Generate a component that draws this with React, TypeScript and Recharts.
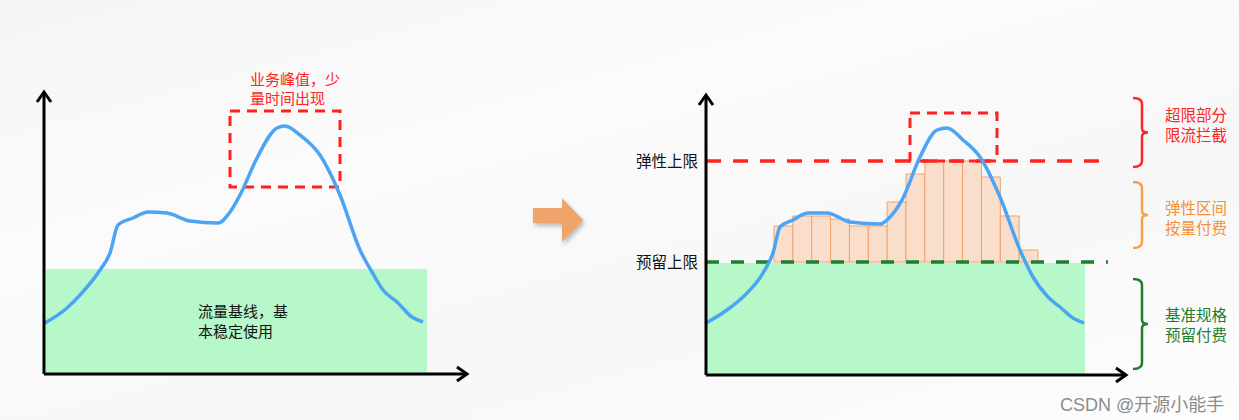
import { ComposedChart, Line, XAxis, YAxis, ReferenceArea, ReferenceLine, ReferenceDot } from "recharts"

// left panel: traffic curve (x = time, y = traffic)
const leftX = [1, 23, 36, 56, 66, 74, 89, 104, 123, 146, 174, 186, 196, 213, 233, 241, 256, 276, 296, 316, 328, 339, 353, 368, 379]
const leftY = [51, 66, 79, 104, 121, 149, 156, 162, 161, 153, 151, 162, 179, 216, 246, 248, 239, 219, 179, 124, 102, 84, 72, 57, 52]
const leftBaseline = 105
const leftBaseEnd = 383
const leftPeakBox = { x1: 186, x2: 296, y1: 187, y2: 263 }

// right panel
const rightX = [0, 21, 37, 57, 67, 74, 87, 102, 121, 144, 174, 184, 196, 214, 231, 241, 257, 274, 294, 314, 327, 342, 354, 367, 378]
const rightY = [52, 65, 78, 102, 122, 148, 155, 162, 162, 153, 151, 158, 175, 218, 245, 247, 235, 218, 178, 125, 98, 78, 68, 57, 52]
const reservedLimit = 113
const elasticLimit = 214
const limitLineEnd = 402
const rightBaseEnd = 379
const barStart = 68
const barWidth = 18.86
const barValues = [149, 159, 159, 156, 149, 149, 173, 201, 214, 214, 214, 198, 159, 125]
const rightPeakBox = { x1: 204, x2: 291, y1: 214, y2: 262 }

const peakNote = ["业务峰值，少", "量时间出现"]
const baseNote = ["流量基线，基", "本稳定使用"]

const braceLabels = [
  ["超限部分", "限流拦截"],
  ["弹性区间", "按量付费"],
  ["基准规格", "预留付费"],
]
const braceLow = [208, 127, 6]
const braceHigh = [277, 193, 96]
const braceColors = ["#ff2424", "#f7a04c", "#1f7d2e"]
const braceTextColors = ["#ff2424", "#f4903a", "#1f7d2e"]
const braceTextShift = [-9, 2, 0]

const leftData = leftX.map((x, i) => ({ x, y: leftY[i] }))
const rightData = rightX.map((x, i) => ({ x, y: rightY[i] }))

const FONT = '"Noto Sans CJK SC", "Noto Sans", sans-serif'
const BLUE = "#4ba4f4"
const GREEN_FILL = "#b6f8ca"

const upArrow = (p: any) => (
  <polyline points={`${p.cx - 7},${p.cy + 10} ${p.cx},${p.cy} ${p.cx + 7},${p.cy + 10}`} fill="none" stroke="#000" strokeWidth={3} />
)
const rightArrow = (p: any) => (
  <polyline points={`${p.cx - 10},${p.cy - 7} ${p.cx},${p.cy} ${p.cx - 10},${p.cy + 7}`} fill="none" stroke="#000" strokeWidth={3} />
)

function braceShape(idx: number) {
  return (p: any) => {
    const { x, y, width, height } = p
    const spine = x + 9
    const tip = x + width
    const mid = y + height / 2
    const b = y + height
    const d = `M${x},${y} Q${spine},${y} ${spine},${y + 6} L${spine},${mid - 4} Q${spine},${mid} ${tip},${mid} Q${spine},${mid} ${spine},${mid + 4} L${spine},${b - 6} Q${spine},${b} ${x},${b}`
    const ty = mid + braceTextShift[idx]
    return (
      <g>
        <path d={d} fill="none" stroke={braceColors[idx]} strokeWidth={2.5} />
        <text x={tip + 17} y={ty - 10} fill={braceTextColors[idx]} fontSize={15.5} fontFamily={FONT} dominantBaseline="central">
          {braceLabels[idx][0]}
        </text>
        <text x={tip + 17} y={ty + 10} fill={braceTextColors[idx]} fontSize={15.5} fontFamily={FONT} dominantBaseline="central">
          {braceLabels[idx][1]}
        </text>
      </g>
    )
  }
}

function LeftChart() {
  return (
    <ComposedChart width={480} height={420} data={leftData} margin={{ top: 92, left: 44, right: 13, bottom: 46 }}>
      <XAxis type="number" dataKey="x" domain={[0, 423]} hide />
      <YAxis type="number" domain={[0, 282]} hide />
      <ReferenceArea x1={2} x2={leftBaseEnd} y1={0} y2={leftBaseline} fill={GREEN_FILL} fillOpacity={1} stroke="none" />
      <ReferenceArea {...leftPeakBox} fill="none" stroke="#ff2020" strokeWidth={3} strokeDasharray="10 7" />
      <Line dataKey="y" type="monotone" stroke={BLUE} strokeWidth={3.5} dot={false} isAnimationActive={false} />
      <ReferenceLine x={0} stroke="#000" strokeWidth={3} />
      <ReferenceLine y={0} stroke="#000" strokeWidth={3} />
      <ReferenceDot x={0} y={282} ifOverflow="visible" shape={upArrow} />
      <ReferenceDot x={423} y={0} ifOverflow="visible" shape={rightArrow} />
    </ComposedChart>
  )
}

function RightChart() {
  return (
    <ComposedChart width={639} height={420} data={rightData} margin={{ top: 95, left: 106, right: 113, bottom: 45 }} style={{ fontFamily: FONT }}>
      <XAxis type="number" dataKey="x" domain={[0, 420]} hide />
      <YAxis type="number" domain={[0, 280]} hide />
      <ReferenceArea x1={0} x2={rightBaseEnd} y1={0} y2={reservedLimit - 1} fill={GREEN_FILL} fillOpacity={1} stroke="none" />
      <ReferenceLine
        segment={[{ x: 0, y: reservedLimit }, { x: limitLineEnd, y: reservedLimit }]}
        stroke="#1f7d2e"
        strokeWidth={3.5}
        strokeDasharray="13 12"
        label={{ value: "预留上限", position: "left", offset: 8, fill: "#111", fontSize: 15.5 }}
      />
      <ReferenceLine
        segment={[{ x: 0, y: elasticLimit }, { x: limitLineEnd, y: elasticLimit }]}
        stroke="#ff2424"
        strokeWidth={3.5}
        strokeDasharray="15 12"
        label={{ value: "弹性上限", position: "left", offset: 8, fill: "#111", fontSize: 15.5 }}
      />
      {barValues.map((v, i) => (
        <ReferenceArea
          key={`bar-${i}`}
          x1={barStart + i * barWidth}
          x2={barStart + (i + 1) * barWidth}
          y1={reservedLimit}
          y2={v}
          fill="#f9dfcb"
          fillOpacity={1}
          stroke="#f0a36c"
          strokeWidth={1}
        />
      ))}
      <ReferenceArea {...rightPeakBox} fill="none" stroke="#ff2020" strokeWidth={3} strokeDasharray="10 7" />
      <Line dataKey="y" type="monotone" stroke={BLUE} strokeWidth={3.5} dot={false} isAnimationActive={false} />
      <ReferenceLine x={0} stroke="#000" strokeWidth={3} />
      <ReferenceLine y={0} stroke="#000" strokeWidth={3} />
      <ReferenceDot x={0} y={280} ifOverflow="visible" shape={upArrow} />
      <ReferenceDot x={420} y={0} ifOverflow="visible" shape={rightArrow} />
      {braceLabels.map((_, i) => (
        <ReferenceArea key={`brace-${i}`} x1={427} x2={442} y1={braceLow[i]} y2={braceHigh[i]} ifOverflow="visible" shape={braceShape(i)} />
      ))}
    </ComposedChart>
  )
}

function Note({ lines, left, top, color, gap }: { lines: string[]; left: number; top: number; color: string; gap: number }) {
  return (
    <>
      {lines.map((t, i) => (
        <div
          key={t}
          style={{ position: "absolute", left, top: top + i * gap, color, fontSize: 15, lineHeight: "16px", whiteSpace: "nowrap" }}
        >
          {t}
        </div>
      ))}
    </>
  )
}

export default function App() {
  return (
    <div
      style={{
        position: "absolute",
        left: 0,
        top: 0,
        width: 1239,
        height: 420,
        overflow: "hidden",
        fontFamily: FONT,
        background: "linear-gradient(165deg, #f5f5f5 0%, #fbfbfb 35%, #f7f7f7 65%, #fdfdfd 100%)",
      }}
    >
      <div style={{ position: "absolute", left: 0, top: 0 }}>
        <LeftChart />
      </div>
      <div style={{ position: "absolute", left: 600, top: 0 }}>
        <RightChart />
      </div>
      <Note lines={peakNote} left={250} top={71} color="#ff2424" gap={19} />
      <Note lines={baseNote} left={198} top={303} color="#111" gap={19.5} />
      <svg style={{ position: "absolute", left: 520, top: 185, overflow: "visible" }} width={80} height={70}>
        <polygon
          points="13,23 42,23 42,13 63,35 42,57 42,38 13,38"
          fill="#f0a46b"
          style={{ filter: "drop-shadow(2px 3px 2px rgba(0,0,0,0.25))" }}
        />
      </svg>
      <div
        style={{
          position: "absolute",
          left: 1060,
          top: 390,
          color: "#8c8c8c",
          fontSize: 18,
          fontFamily: '"Liberation Sans", "Noto Sans CJK SC", sans-serif',
          textShadow: "0 0 2px #fff",
        }}
      >
        CSDN @开源小能手
      </div>
    </div>
  )
}
